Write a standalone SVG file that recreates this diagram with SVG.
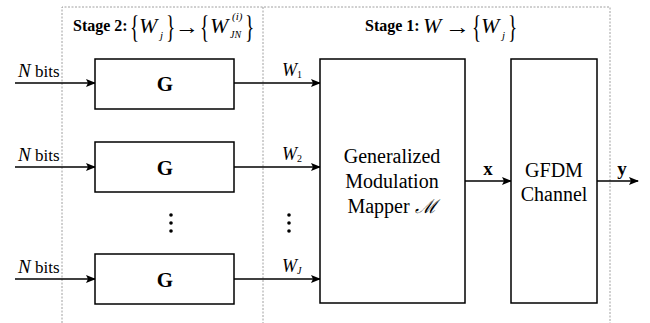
<svg xmlns="http://www.w3.org/2000/svg" width="650" height="323" viewBox="0 0 650 323">
<style>
.box{fill:#fff;stroke:#000;stroke-width:1.5}
.dash{fill:none;stroke:#888;stroke-width:0.8;stroke-dasharray:2,1.5}
.ln{stroke:#000;stroke-width:1.5;fill:none;marker-end:url(#ah)}
.t{font-family:"Times New Roman","Liberation Serif","DejaVu Serif",serif;fill:#000}
.b{font-weight:bold}
.i{font-style:italic}
.br{font-size:32px}
</style>
<defs>
<marker id="ah" markerWidth="10" markerHeight="8" refX="9" refY="4" orient="auto" markerUnits="userSpaceOnUse">
<path d="M0,0 L10,4 L0,8 L2,4 Z" fill="#000"/>
</marker>
</defs>
<rect width="650" height="323" fill="#fff"/>
<g id="stages">
<path class="dash" d="M62,323 V7 H610 V323 M263,7 V323"/>
<text class="t b" x="73" y="31" font-size="16">Stage 2:</text>
<text class="t br" x="0" y="38" transform="translate(130,0) scale(0.6,1)">{</text>
<text class="t i" x="139" y="33" font-size="22">W</text>
<text class="t i" x="160" y="39" font-size="11">j</text>
<text class="t br" x="0" y="38" transform="translate(166,0) scale(0.6,1)">}</text>
<text class="t" x="0" y="34" font-size="22" transform="translate(175,0) scale(1.1,1)">→</text>
<text class="t br" x="0" y="38" transform="translate(200,0) scale(0.6,1)">{</text>
<text class="t i" x="210" y="33" font-size="22">W</text>
<text class="t i" x="232" y="20" font-size="11">(i)</text>
<text class="t i" x="230" y="38" font-size="10">JN</text>
<text class="t br" x="0" y="38" transform="translate(245,0) scale(0.6,1)">}</text>
<text class="t b" x="365" y="31" font-size="16">Stage 1:</text>
<text class="t i" x="423" y="33" font-size="22">W</text>
<text class="t" x="0" y="34" font-size="22" transform="translate(445,0) scale(1.15,1)">→</text>
<text class="t br" x="0" y="38" transform="translate(472,0) scale(0.6,1)">{</text>
<text class="t i" x="481" y="33" font-size="22">W</text>
<text class="t i" x="502" y="39" font-size="11">j</text>
<text class="t br" x="0" y="38" transform="translate(508,0) scale(0.6,1)">}</text>
</g>
<g id="connectors">
<line class="ln" x1="15" y1="83" x2="95" y2="83"/>
<line class="ln" x1="15" y1="167" x2="95" y2="167"/>
<line class="ln" x1="15" y1="279" x2="95" y2="279"/>
<line class="ln" x1="234" y1="83" x2="320" y2="83"/>
<line class="ln" x1="234" y1="167" x2="320" y2="167"/>
<line class="ln" x1="234" y1="279" x2="320" y2="279"/>
<line class="ln" x1="465" y1="181" x2="511" y2="181"/>
<line class="ln" x1="597" y1="181" x2="638" y2="181"/>
<text class="t i" x="18" y="77" font-size="19">N</text><text class="t" x="35" y="77" font-size="17">bits</text>
<text class="t i" x="18" y="161" font-size="19">N</text><text class="t" x="35" y="161" font-size="17">bits</text>
<text class="t i" x="18" y="273" font-size="19">N</text><text class="t" x="35" y="273" font-size="17">bits</text>
<text class="t i" x="282" y="76" font-size="18">W</text><text class="t" x="297" y="78" font-size="10">1</text>
<text class="t i" x="282" y="160" font-size="18">W</text><text class="t" x="297" y="162" font-size="10">2</text>
<text class="t i" x="282" y="272" font-size="18">W</text><text class="t i" x="297" y="274" font-size="10">J</text>
<text class="t b" x="488" y="175" font-size="19" text-anchor="middle">x</text>
<text class="t b" x="622" y="175" font-size="19" text-anchor="middle">y</text>
<circle cx="171" cy="215" r="1.8"/><circle cx="171" cy="223" r="1.8"/><circle cx="171" cy="231" r="1.8"/>
<circle cx="289" cy="215" r="1.8"/><circle cx="289" cy="223" r="1.8"/><circle cx="289" cy="231" r="1.8"/>
</g>
<g id="g1"><rect class="box" x="95" y="59" width="139" height="50"/><text class="t b" x="165" y="91" font-size="21" text-anchor="middle">G</text></g>
<g id="g2"><rect class="box" x="95" y="142" width="139" height="50"/><text class="t b" x="165" y="175" font-size="21" text-anchor="middle">G</text></g>
<g id="g3"><rect class="box" x="95" y="254" width="139" height="50"/><text class="t b" x="165" y="287" font-size="21" text-anchor="middle">G</text></g>
<g id="mapper"><rect class="box" x="320" y="59" width="145" height="244"/>
<text class="t" x="392" y="163" font-size="20" text-anchor="middle">Generalized</text>
<text class="t" x="392" y="188" font-size="20" text-anchor="middle">Modulation</text>
<text class="t" x="392" y="213" font-size="20" text-anchor="middle">Mapper <tspan font-style="italic" font-size="19">ℳ</tspan></text>
</g>
<g id="channel"><rect class="box" x="511" y="59" width="86" height="244"/>
<text class="t" x="554" y="177" font-size="20" text-anchor="middle">GFDM</text>
<text class="t" x="554" y="201" font-size="20" text-anchor="middle">Channel</text>
</g>
</svg>
